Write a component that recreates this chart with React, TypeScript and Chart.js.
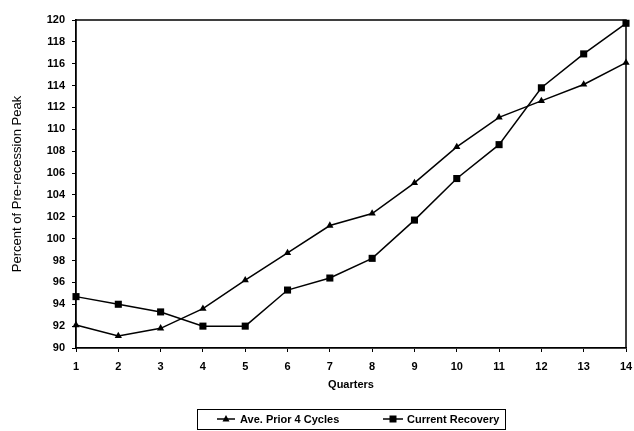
import React, { useEffect, useRef } from 'react';
import { Chart, registerables } from 'chart.js';

Chart.register(...registerables);

const quarters = ['1', '2', '3', '4', '5', '6', '7', '8', '9', '10', '11', '12', '13', '14'];
const avePrior4Cycles = [92.1, 91.1, 91.8, 93.6, 96.2, 98.7, 101.2, 102.3, 105.1, 108.4, 111.1, 112.6, 114.1, 116.1];
const currentRecovery = [94.7, 94.0, 93.3, 92.0, 92.0, 95.3, 96.4, 98.2, 101.7, 105.5, 108.6, 113.8, 116.9, 119.7];
const seriesNames = ['Ave. Prior 4 Cycles', 'Current Recovery'];
const yMin = 90;
const yMax = 120;
const yStep = 2;

const FONT = '"Liberation Sans", Arial, sans-serif';

const frameAndLegend = {
  id: 'frameAndLegend',
  afterDraw(chart: any) {
    const { ctx, chartArea } = chart;
    ctx.save();
    ctx.strokeStyle = '#000';
    ctx.lineWidth = 1.5;
    ctx.beginPath();
    ctx.moveTo(chartArea.left, chartArea.top);
    ctx.lineTo(chartArea.right, chartArea.top);
    ctx.lineTo(chartArea.right, chartArea.bottom);
    ctx.stroke();

    const cx = (chartArea.left + chartArea.right) / 2;
    const top = chart.height - 22;
    const h = 20;
    const cy = top + h / 2;
    ctx.lineWidth = 1;
    ctx.strokeRect(Math.round(cx - 154) + 0.5, Math.round(top) + 0.5, 308, h);

    const items = [
      { name: seriesNames[0], x0: cx - 134, x1: cx - 116, tx: cx - 111, style: 'triangle' },
      { name: seriesNames[1], x0: cx + 32, x1: cx + 52, tx: cx + 56, style: 'rect' },
    ];
    ctx.font = 'bold 11px ' + FONT;
    ctx.textBaseline = 'middle';
    ctx.textAlign = 'left';
    ctx.fillStyle = '#000';
    for (const it of items) {
      ctx.lineWidth = 1.5;
      ctx.beginPath();
      ctx.moveTo(it.x0, cy);
      ctx.lineTo(it.x1, cy);
      ctx.stroke();
      const mx = (it.x0 + it.x1) / 2;
      ctx.beginPath();
      if (it.style === 'triangle') {
        ctx.moveTo(mx, cy - 4);
        ctx.lineTo(mx + 3.5, cy + 2.5);
        ctx.lineTo(mx - 3.5, cy + 2.5);
        ctx.closePath();
      } else {
        ctx.rect(mx - 3.5, cy - 3.5, 7, 7);
      }
      ctx.fill();
      ctx.fillText(it.name, it.tx, cy + 0.5);
    }
    ctx.restore();
  },
};

export default function App() {
  const ref = useRef<HTMLCanvasElement | null>(null);

  useEffect(() => {
    if (!ref.current) return;
    const chart = new Chart(ref.current, {
      type: 'line',
      data: {
        labels: quarters,
        datasets: [
          {
            label: seriesNames[0],
            data: avePrior4Cycles,
            borderColor: '#000',
            backgroundColor: '#000',
            borderWidth: 1.5,
            pointStyle: 'triangle',
            pointRadius: 4.2,
            pointBorderWidth: 0,
            tension: 0,
            clip: false,
          },
          {
            label: seriesNames[1],
            data: currentRecovery,
            borderColor: '#000',
            backgroundColor: '#000',
            borderWidth: 1.5,
            pointStyle: 'rect',
            pointRadius: 5,
            pointBorderWidth: 0,
            tension: 0,
            clip: false,
          },
        ],
      },
      options: {
        animation: false,
        responsive: true,
        maintainAspectRatio: false,
        layout: { padding: { left: 0, right: 8, top: 20, bottom: 35 } },
        plugins: {
          legend: { display: false },
          tooltip: { enabled: false },
          title: { display: false },
        },
        scales: {
          x: {
            offset: false,
            afterFit: (s: any) => { s.height = 48; s.paddingRight = 0; },
            grid: { drawOnChartArea: false, drawTicks: true, tickLength: 4, color: '#000', lineWidth: 1 },
            border: { display: true, color: '#000', width: 1.8 },
            ticks: {
              color: '#000',
              padding: 8,
              maxRotation: 0,
              autoSkip: false,
              font: { family: FONT, size: 11, weight: 'bold' },
            },
            title: {
              display: true,
              text: 'Quarters',
              color: '#000',
              padding: { top: 0, bottom: 4 },
              font: { family: FONT, size: 11, weight: 'bold' },
            },
          },
          y: {
            min: yMin,
            max: yMax,
            afterFit: (s: any) => { s.width = 76; },
            grid: { drawOnChartArea: false, drawTicks: true, tickLength: 4, color: '#000', lineWidth: 1 },
            border: { display: true, color: '#000', width: 1.8 },
            ticks: {
              stepSize: yStep,
              color: '#000',
              padding: 7,
              font: { family: FONT, size: 11, weight: 'bold' },
            },
            title: {
              display: true,
              text: 'Percent of Pre-recession Peak',
              color: '#000',
              padding: { top: 10, bottom: 0 },
              font: { family: FONT, size: 13 },
            },
          },
        },
      },
      plugins: [frameAndLegend],
    });
    return () => chart.destroy();
  }, []);

  return (
    <div style={{ position: 'fixed', left: 0, top: 0, width: 634, height: 431, background: '#fff' }}>
      <canvas ref={ref} />
    </div>
  );
}
